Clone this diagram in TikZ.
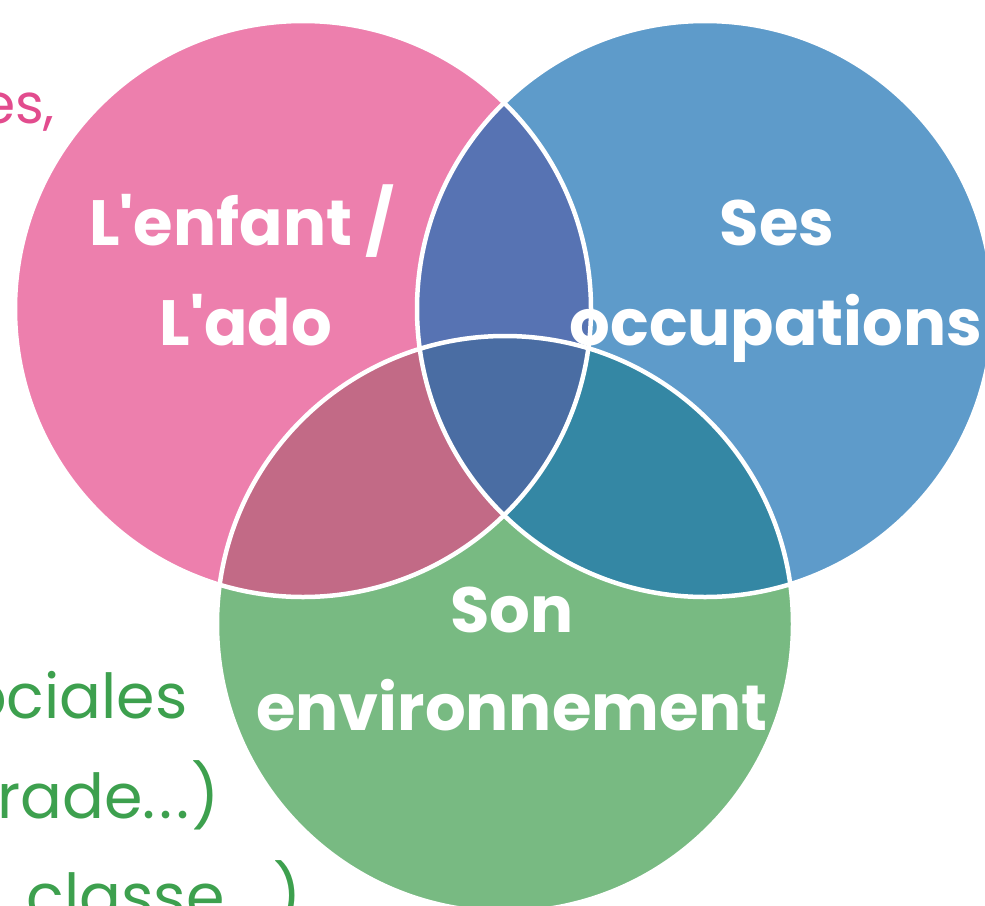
\documentclass[tikz,border=0pt]{standalone}
\usepackage{fontspec}
\setmainfont{Poppins}
\definecolor{pinkc}{HTML}{ED7FAD}
\definecolor{bluec}{HTML}{5E9BCA}
\definecolor{greenc}{HTML}{78BA82}
\definecolor{pbc}{HTML}{5773B3}
\definecolor{pgc}{HTML}{C26A86}
\definecolor{bgc}{HTML}{3487A4}
\definecolor{allc}{HTML}{4A6DA3}
\definecolor{pinktext}{HTML}{E24C8E}
\definecolor{greentext}{HTML}{3DA04E}
\tikzset{
  label/.style={text=white, font=\fontsize{64}{64}\selectfont\bfseries, anchor=base, inner sep=0pt},
  side/.style={font=\fontsize{62}{62}\selectfont, anchor=base east, inner sep=0pt},
  ring/.style={draw=white, line width=4.5pt}
}
\begin{document}
\begin{tikzpicture}[x=1pt,y=-1pt]
\useasboundingbox (0,0) rectangle (985,905);
\clip (0,0) rectangle (985,905);
\coordinate (P) at (303,309);
\coordinate (B) at (705,309);
\coordinate (G) at (505,624);
\def\R{288}
\fill[pinkc] (P) circle (\R);
\fill[bluec] (B) circle (\R);
\fill[greenc] (G) circle (\R);
\begin{scope}
  \clip (P) circle (\R);
  \fill[pbc] (B) circle (\R);
  \fill[pgc] (G) circle (\R);
  \clip (B) circle (\R);
  \fill[allc] (G) circle (\R);
\end{scope}
\begin{scope}
  \clip (B) circle (\R);
  \clip (G) circle (\R);
  \fill[bgc] (G) circle (\R);
  \clip (P) circle (\R);
  \fill[allc] (G) circle (\R);
\end{scope}
\draw[ring] (P) circle (\R);
\draw[ring] (B) circle (\R);
\draw[ring] (G) circle (\R);
\node[label] (l1) at (242,245) {L\textquotesingle enfant /};
\node[label] (l2) at (246,345) {L\textquotesingle ado};
\node[label] (l3) at (777,245) {Ses};
\node[label] (l4) at (776,345) {occupations};
\node[label] (l5) at (512,632) {Son};
\node[label] (l6) at (512,730) {environnement};
\node[side, text=pinktext, font=\fontsize{55}{55}\selectfont] (s1) at (55,123) {es,};
\node[side, text=greentext] (s2) at (188,718) {ociales};
\node[side, text=greentext] (s3) at (220,818) {rade.\kern4pt.\kern4pt.\kern2pt)};
\node[side, text=greentext] (s4) at (302,918) {classe.\kern4pt.\kern4pt.\kern2pt)};
\end{tikzpicture}
\end{document}
